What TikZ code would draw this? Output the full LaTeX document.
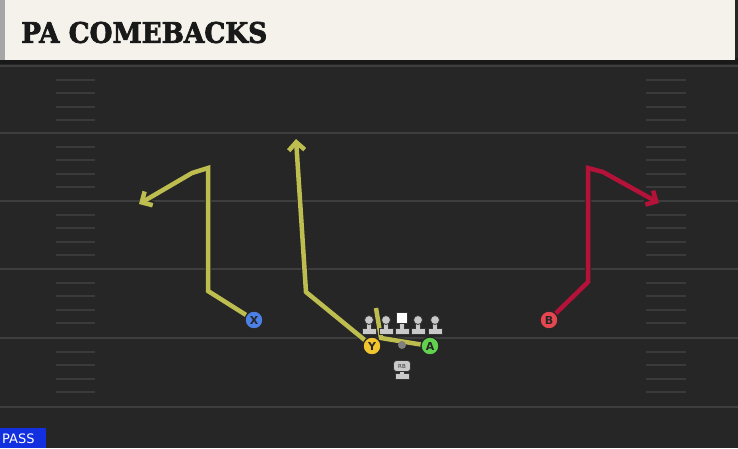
\documentclass[tikz,border=0pt]{standalone}
\usepackage{fontspec}
\setsansfont{DejaVu Sans}
\newfontfamily\headfont[FakeBold=2.5]{DejaVu Serif}
\usetikzlibrary{arrows.meta}
\definecolor{field}{HTML}{262626}
\definecolor{yardline}{HTML}{3E3E3E}
\definecolor{hashc}{HTML}{3A3A3A}
\definecolor{cream}{HTML}{F4F2EB}
\definecolor{routeY}{HTML}{BDBD50}
\definecolor{routeR}{HTML}{B5123A}
\definecolor{xblue}{HTML}{4C80E4}
\definecolor{bred}{HTML}{E6464F}
\definecolor{yyel}{HTML}{F2C42E}
\definecolor{agreen}{HTML}{62D24E}
\definecolor{linegray}{HTML}{C9C9C9}
\definecolor{passblue}{HTML}{1230E0}
\tikzset{
  player/.style={circle,draw=black!85,line width=1.3pt,minimum size=18pt,inner sep=0pt,font=\sffamily\bfseries\fontsize{11}{11}\selectfont,text=black!85},
  outl/.style={line width=6.5pt,draw=black!85,line join=miter},
  rt/.style={line width=4.5pt,line join=miter},
  tipY/.style={-{Straight Barb[length=8pt,width=16pt]}},
  yard/.style={draw=yardline,line width=2pt},
  hash/.style={draw=hashc,line width=2pt}
}
\begin{document}
\begin{tikzpicture}[x=1pt,y=-1pt]
\useasboundingbox (0,0) rectangle (738,448);
\fill[field] (0,0) rectangle (738,448);
% header
\fill[black!90] (0,58) rectangle (738,64);
\fill[cream] (0,0) rectangle (735,60);
\fill[black!35] (0,0) rectangle (5,60);
\node[anchor=west,inner sep=0pt,font=\headfont\bfseries,text=black!90] (title) at (21,32.5) {\resizebox{246pt}{21pt}{\bfseries PA COMEBACKS}};
% yard lines
\foreach \y in {66,133,201,269,338,407} \draw[yard] (0,\y) -- (738,\y);
% hash marks
\foreach \b in {66,133,201,269,338} {
  \foreach \k in {1,2,3,4} {
    \draw[hash] (56,\b+13.6*\k) -- (95,\b+13.6*\k);
    \draw[hash] (646,\b+13.6*\k) -- (686,\b+13.6*\k);
  }
}
% coordinates
\coordinate (x1) at (208,291);
\coordinate (x2) at (208,168);
\coordinate (x3) at (192,173);
\coordinate (x4) at (139,204);
\coordinate (y1) at (306,292);
\coordinate (y2) at (296,139);
\coordinate (a1) at (381,338);
\coordinate (a2) at (376,308);
\coordinate (b1) at (588,282);
\coordinate (b2) at (588,168);
\coordinate (b3) at (603,172);
\coordinate (b4) at (659,203);
% players (positions)
\coordinate (X) at (254,320);
\coordinate (Y) at (372,346);
\coordinate (A) at (430,346);
\coordinate (B) at (549,320);
% routes outline
\draw[outl,tipY] (X) -- (x1) -- (x2) -- (x3) -- (x4);
\draw[outl,tipY] (Y) -- (y1) -- (y2);
\draw[outl] (A) -- (a1) -- (a2);
\draw[outl,tipY] (B) -- (b1) -- (b2) -- (b3) -- (b4);
% routes colour
\draw[rt,routeY,tipY] (X) -- (x1) -- (x2) -- (x3) -- (x4);
\draw[rt,routeY,tipY] (Y) -- (y1) -- (y2);
\draw[rt,routeY] (A) -- (a1) -- (a2);
\draw[rt,routeR,tipY] (B) -- (b1) -- (b2) -- (b3) -- (b4);
% linemen
\foreach \n/\lx in {l1/369,l2/386,l4/418,l5/435} {
  \fill[black!80] (\lx-7.5,328) rectangle (\lx+7.5,335);
  \fill[black!80] (\lx-3,321) rectangle (\lx+3,331);
  \fill[linegray] (\lx-6.5,329) rectangle (\lx+6.5,334);
  \fill[linegray] (\lx-2,321) rectangle (\lx+2,331);
  \node[circle,fill=linegray,draw=black!80,line width=0.8pt,minimum size=9pt,inner sep=0pt] (\n) at (\lx,320) {};
}
\fill[black!80] (394.5,328) rectangle (409.5,335);
\fill[black!80] (399,320) rectangle (405,331);
\fill[linegray] (395.5,329) rectangle (408.5,334);
\fill[linegray] (400,320) rectangle (404,331);
\node[rectangle,fill=white,draw=black!80,line width=0.8pt,minimum size=11pt,inner sep=0pt] (C) at (402,318) {};
% QB dot
\node[circle,fill=black!50,minimum size=8pt,inner sep=0pt] (QB) at (402,345) {};
% RB
\fill[black!80] (394.5,373) rectangle (409.5,380);
\fill[black!80] (399,368) rectangle (405,376);
\fill[linegray] (395.5,374) rectangle (408.5,379);
\fill[linegray] (400,368) rectangle (404,376);
\node[rectangle,rounded corners=3pt,fill=linegray,draw=black!80,line width=0.8pt,minimum width=17pt,minimum height=11pt,inner sep=0pt,font=\sffamily\fontsize{5.5}{5.5}\selectfont,text=black!80] (RB) at (402,366) {RB};
% skill players
\node[player,fill=xblue] (Xn) at (X) {X};
\node[player,fill=yyel] (Yn) at (Y) {Y};
\node[player,fill=agreen] (An) at (A) {A};
\node[player,fill=bred] (Bn) at (B) {B};
% PASS
\fill[passblue] (0,428) rectangle (46,448);
\node[anchor=west,inner sep=0pt,font=\sffamily\fontsize{13}{13}\selectfont,text=white] (pass) at (2,438.5) {PASS};
\end{tikzpicture}
\end{document}
